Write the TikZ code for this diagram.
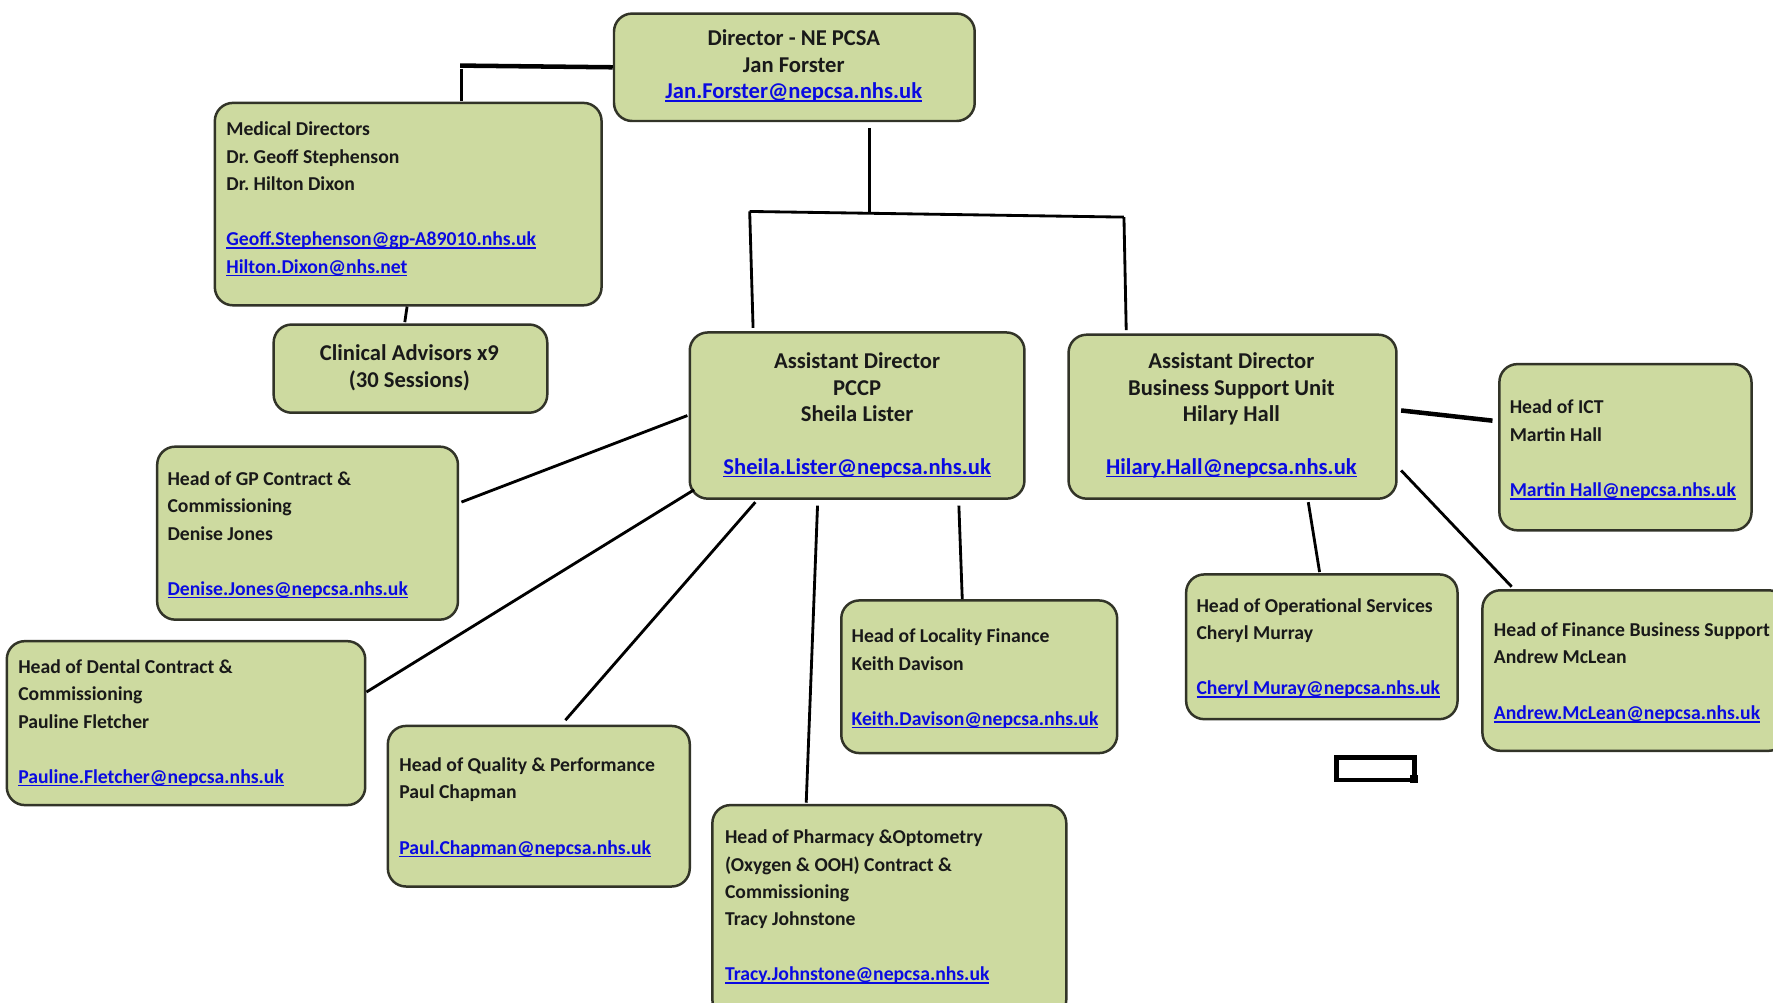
\documentclass[tikz,border=0pt]{standalone}
\usepackage{fontspec}
\setmainfont{Carlito}
\frenchspacing
\definecolor{boxfill}{RGB}{205,218,160}
\definecolor{boxline}{RGB}{50,52,40}
\definecolor{mail}{RGB}{10,10,225}
\newcommand{\ml}[1]{\textcolor{mail}{\setbox0\hbox{#1}\rlap{\rule[-2.6pt]{\wd0}{1.3pt}}\box0}}
\tikzset{
  box/.style={draw=boxline, line width=2.2pt, fill=boxfill, rounded corners=16pt, inner sep=0pt},
  sm/.style={font=\bfseries\fontsize{17.4}{24.3}\selectfont, align=left, inner sep=0pt, text=black!90, anchor=base west},
  lg/.style={font=\bfseries\fontsize{20}{23.5}\selectfont, align=center, inner sep=0pt, text=black!90, anchor=base},
  conn/.style={line width=2.5pt, draw=black},
  connthick/.style={line width=4pt, draw=black},
}
\begin{document}
\begin{tikzpicture}[x=1pt,y=-1pt]
\useasboundingbox (0,0) rectangle (1568,887);
\clip (0,0) rectangle (1568,887);
\fill[white] (0,0) rectangle (1568,887);

% boxes
\node[box, minimum width=319pt, minimum height=95pt] (dir) at (702.5,59.5) {};
\node[box, minimum width=342pt, minimum height=179pt] (med) at (361,180.5) {};
\node[box, minimum width=242pt, minimum height=78pt] (clin) at (363,326) {};
\node[box, minimum width=296pt, minimum height=147pt] (pccp) at (758,367.5) {};
\node[box, minimum width=290pt, minimum height=145pt] (bsu) at (1090,368.5) {};
\node[box, minimum width=223pt, minimum height=147pt] (ict) at (1437.5,395.5) {};
\node[box, minimum width=266pt, minimum height=153pt] (gp) at (272,471.5) {};
\node[box, minimum width=317pt, minimum height=145pt] (dental) at (164.5,639.5) {};
\node[box, minimum width=267pt, minimum height=142pt] (qual) at (476.5,713) {};
\node[box, minimum width=313pt, minimum height=188pt] (pharm) at (786.5,806) {};
\node[box, minimum width=244pt, minimum height=135pt] (loc) at (866,598.5) {};
\node[box, minimum width=240pt, minimum height=128pt] (ops) at (1169,572) {};
\node[box, minimum width=269pt, minimum height=142pt] (fin) at (1445.5,593) {};

% small empty frame
\node[draw=black, line width=4pt, minimum width=69pt, minimum height=20pt, inner sep=0pt] (tb) at (1216.5,680) {};
\node[fill=black, minimum size=7pt, inner sep=0pt] (tbh) at (1250.5,689) {};

% texts (anchored at the baseline of the last line)
\node[lg] (dirt) at (702,87.5) {Director - NE PCSA\\Jan Forster\\\ml{Jan.Forster@nepcsa.nhs.uk}};
\node[sm] (medt) at (200,241.5) {Medical Directors\\Dr. Geoff Stephenson\\Dr. Hilton Dixon\\[24.3pt]\ml{Geoff.Stephenson@gp-A89010.nhs.uk}\\\ml{Hilton.Dixon@nhs.net}};
\node[lg] (clint) at (362,342.5) {Clinical Advisors x9\\(30 Sessions)};
\node[lg] (pccpt) at (758,419.5) {Assistant Director\\PCCP\\Sheila Lister\\[23pt]\ml{Sheila.Lister@nepcsa.nhs.uk}};
\node[lg] (bsut) at (1089,419.5) {Assistant Director\\Business Support Unit\\Hilary Hall\\[23pt]\ml{Hilary.Hall@nepcsa.nhs.uk}};
\node[sm] (ictt) at (1335,439.5) {Head of ICT\\Martin Hall\\[25pt]\ml{Martin Hall@nepcsa.nhs.uk}};
\node[sm] (gpt) at (148,526.5) {Head of GP Contract \&\\Commissioning\\Denise Jones\\[24.3pt]\ml{Denise.Jones@nepcsa.nhs.uk}};
\node[sm] (dentalt) at (16,692.5) {Head of Dental Contract \&\\Commissioning\\Pauline Fletcher\\[24.3pt]\ml{Pauline.Fletcher@nepcsa.nhs.uk}};
\node[sm] (qualt) at (353,755.5) {Head of Quality \& Performance\\Paul Chapman\\[25pt]\ml{Paul.Chapman@nepcsa.nhs.uk}};
\node[sm] (pharmt) at (641,867.5) {Head of Pharmacy \&Optometry\\(Oxygen \& OOH) Contract \&\\Commissioning\\Tracy Johnstone\\[24.3pt]\ml{Tracy.Johnstone@nepcsa.nhs.uk}};
\node[sm] (loct) at (753,641.5) {Head of Locality Finance\\Keith Davison\\[24.3pt]\ml{Keith.Davison@nepcsa.nhs.uk}};
\node[sm] (opst) at (1058,614.5) {Head of Operational Services\\Cheryl Murray\\[24.3pt]\ml{Cheryl Muray@nepcsa.nhs.uk}};
\node[sm] (fint) at (1321,636.5) {Head of Finance Business Support\\Andrew McLean\\[25pt]\ml{Andrew.McLean@nepcsa.nhs.uk}};

% junction coordinates
\coordinate (dm) at (407,58);
\coordinate (jm) at (769,188);
\coordinate (jl) at (663,187);
\coordinate (jr) at (994,192);

% connectors
\draw[connthick] (dir.west) -- (dm);
\draw[conn] ([xshift=1pt,yshift=-3pt]dm) -- ([xshift=47pt,yshift=1pt]med.north);
\draw[conn] ([xshift=-1pt]med.south) -- ([xshift=-5pt,yshift=1pt]clin.north);
\draw[conn] ([xshift=66.5pt,yshift=-5pt]dir.south) -- (jm);
\draw[conn] (jl) -- (jr);
\draw[conn] (jl) -- ([xshift=-92pt,yshift=3pt]pccp.north);
\draw[conn] (jr) -- ([xshift=-94pt,yshift=3pt]bsu.north);
\draw[conn] ([xshift=-1pt]pccp.west) -- ([xshift=2pt,yshift=27.5pt]gp.east);
\draw[conn] ([xshift=5pt,yshift=9pt]pccp.south west) -- ([yshift=27.5pt]dental.east);
\draw[conn] ([xshift=-90pt,yshift=-2pt]pccp.south) -- ([xshift=23.5pt,yshift=4pt]qual.north);
\draw[conn] ([xshift=-35pt,yshift=-5pt]pccp.south) -- ([xshift=-73.5pt,yshift=1pt]pharm.north);
\draw[conn] ([xshift=90pt,yshift=-5pt]pccp.south) -- ([xshift=-15pt]loc.north);
\draw[connthick] ([xshift=3pt,yshift=5.5pt]bsu.east) -- ([xshift=-5pt,yshift=23.5pt]ict.west);
\draw[conn] ([xshift=67pt,yshift=-2pt]bsu.south) -- ([xshift=-2pt,yshift=1pt]ops.north);
\draw[conn] ([xshift=3pt,yshift=-47.5pt]bsu.east) -- ([xshift=27pt,yshift=2pt]fin.north west);
\end{tikzpicture}
\end{document}
